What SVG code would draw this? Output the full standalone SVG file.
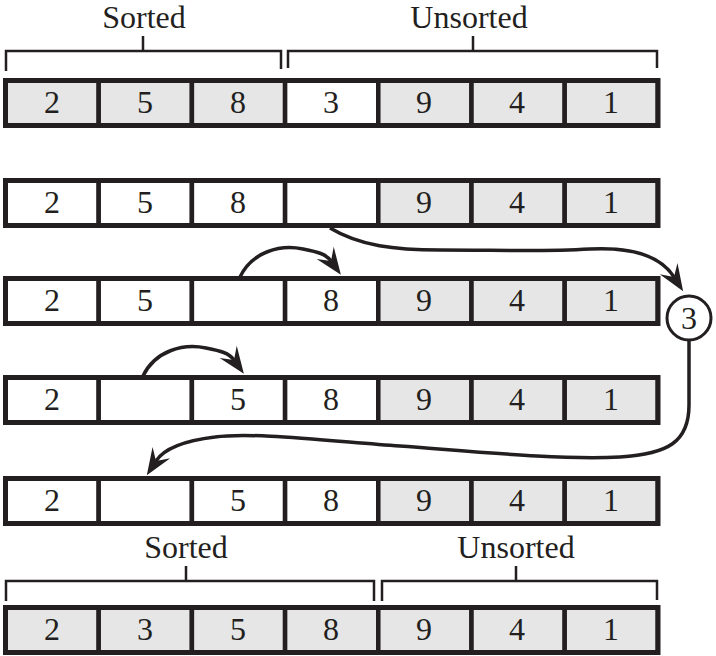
<svg xmlns="http://www.w3.org/2000/svg" width="716" height="656" viewBox="0 0 716 656">
<style>
.g{fill:#e6e6e6;stroke:#231f20;stroke-width:4.5}
.w{fill:#ffffff;stroke:#231f20;stroke-width:4.5}
.o{fill:none;stroke:#231f20;stroke-width:5}
.t{font-family:"Liberation Serif","Times New Roman",serif;font-size:32px;fill:#231f20;text-anchor:middle}
.b{fill:none;stroke:#231f20;stroke-width:2.5}
.a{fill:none;stroke:#231f20;stroke-width:3.5}
</style>
<defs>
<marker id="ah" markerUnits="userSpaceOnUse" viewBox="-28 -12 30 24" markerWidth="30" markerHeight="24" refX="-17" refY="0" orient="auto">
<path d="M0,0 L-27,-10.5 L-17,0 L-27,10.5 Z" fill="#231f20"/>
</marker>
</defs>
<rect width="716" height="656" fill="#ffffff"/>

<g id="bracket-top-sorted">
<path class="b" d="M6,71 V51 H281 V69 M143,51 V36"/>
<text class="t" x="144" y="28">Sorted</text>
</g>
<g id="bracket-top-unsorted">
<path class="b" d="M288,68 V51 H657 V68 M473,51 V36"/>
<text class="t" x="469" y="28">Unsorted</text>
</g>

<g id="row1">
<rect class="g" x="5.5" y="80.5" width="93.2" height="45"/>
<rect class="g" x="98.7" y="80.5" width="93.2" height="45"/>
<rect class="g" x="191.9" y="80.5" width="93.2" height="45"/>
<rect class="w" x="285.1" y="80.5" width="93.2" height="45"/>
<rect class="g" x="378.3" y="80.5" width="93.2" height="45"/>
<rect class="g" x="471.5" y="80.5" width="93.2" height="45"/>
<rect class="g" x="564.7" y="80.5" width="93.2" height="45"/>
<rect class="o" x="5.5" y="80.5" width="652.4" height="45"/>
<text class="t" x="52" y="113">2</text><text class="t" x="145" y="113">5</text><text class="t" x="238" y="113">8</text><text class="t" x="331" y="113">3</text><text class="t" x="424" y="113">9</text><text class="t" x="517" y="113">4</text><text class="t" x="611" y="113">1</text>
</g>

<g id="row2">
<rect class="w" x="5.5" y="180.5" width="93.2" height="45"/>
<rect class="w" x="98.7" y="180.5" width="93.2" height="45"/>
<rect class="w" x="191.9" y="180.5" width="93.2" height="45"/>
<rect class="w" x="285.1" y="180.5" width="93.2" height="45"/>
<rect class="g" x="378.3" y="180.5" width="93.2" height="45"/>
<rect class="g" x="471.5" y="180.5" width="93.2" height="45"/>
<rect class="g" x="564.7" y="180.5" width="93.2" height="45"/>
<rect class="o" x="5.5" y="180.5" width="652.4" height="45"/>
<text class="t" x="52" y="213">2</text><text class="t" x="145" y="213">5</text><text class="t" x="238" y="213">8</text><text class="t" x="424" y="213">9</text><text class="t" x="517" y="213">4</text><text class="t" x="611" y="213">1</text>
</g>

<g id="row3">
<rect class="w" x="5.5" y="278.5" width="93.2" height="45"/>
<rect class="w" x="98.7" y="278.5" width="93.2" height="45"/>
<rect class="w" x="191.9" y="278.5" width="93.2" height="45"/>
<rect class="w" x="285.1" y="278.5" width="93.2" height="45"/>
<rect class="g" x="378.3" y="278.5" width="93.2" height="45"/>
<rect class="g" x="471.5" y="278.5" width="93.2" height="45"/>
<rect class="g" x="564.7" y="278.5" width="93.2" height="45"/>
<rect class="o" x="5.5" y="278.5" width="652.4" height="45"/>
<text class="t" x="52" y="311">2</text><text class="t" x="145" y="311">5</text><text class="t" x="331" y="311">8</text><text class="t" x="424" y="311">9</text><text class="t" x="517" y="311">4</text><text class="t" x="611" y="311">1</text>
</g>

<g id="row4">
<rect class="w" x="5.5" y="377.5" width="93.2" height="45"/>
<rect class="w" x="98.7" y="377.5" width="93.2" height="45"/>
<rect class="w" x="191.9" y="377.5" width="93.2" height="45"/>
<rect class="w" x="285.1" y="377.5" width="93.2" height="45"/>
<rect class="g" x="378.3" y="377.5" width="93.2" height="45"/>
<rect class="g" x="471.5" y="377.5" width="93.2" height="45"/>
<rect class="g" x="564.7" y="377.5" width="93.2" height="45"/>
<rect class="o" x="5.5" y="377.5" width="652.4" height="45"/>
<text class="t" x="52" y="410">2</text><text class="t" x="238" y="410">5</text><text class="t" x="331" y="410">8</text><text class="t" x="424" y="410">9</text><text class="t" x="517" y="410">4</text><text class="t" x="611" y="410">1</text>
</g>

<g id="row5">
<rect class="w" x="5.5" y="478.5" width="93.2" height="45"/>
<rect class="w" x="98.7" y="478.5" width="93.2" height="45"/>
<rect class="w" x="191.9" y="478.5" width="93.2" height="45"/>
<rect class="w" x="285.1" y="478.5" width="93.2" height="45"/>
<rect class="g" x="378.3" y="478.5" width="93.2" height="45"/>
<rect class="g" x="471.5" y="478.5" width="93.2" height="45"/>
<rect class="g" x="564.7" y="478.5" width="93.2" height="45"/>
<rect class="o" x="5.5" y="478.5" width="652.4" height="45"/>
<text class="t" x="52" y="511">2</text><text class="t" x="238" y="511">5</text><text class="t" x="331" y="511">8</text><text class="t" x="424" y="511">9</text><text class="t" x="517" y="511">4</text><text class="t" x="611" y="511">1</text>
</g>

<g id="bracket-bottom-sorted">
<path class="b" d="M6,601 V581 H374 V601 M186,581 V566"/>
<text class="t" x="186" y="558">Sorted</text>
</g>
<g id="bracket-bottom-unsorted">
<path class="b" d="M382,601 V581 H657 V600 M516,581 V566"/>
<text class="t" x="516" y="558">Unsorted</text>
</g>

<g id="row6">
<rect class="g" x="5.5" y="607.5" width="93.2" height="45"/>
<rect class="g" x="98.7" y="607.5" width="93.2" height="45"/>
<rect class="g" x="191.9" y="607.5" width="93.2" height="45"/>
<rect class="g" x="285.1" y="607.5" width="93.2" height="45"/>
<rect class="g" x="378.3" y="607.5" width="93.2" height="45"/>
<rect class="g" x="471.5" y="607.5" width="93.2" height="45"/>
<rect class="g" x="564.7" y="607.5" width="93.2" height="45"/>
<rect class="o" x="5.5" y="607.5" width="652.4" height="45"/>
<text class="t" x="52" y="640">2</text><text class="t" x="145" y="640">3</text><text class="t" x="238" y="640">5</text><text class="t" x="331" y="640">8</text><text class="t" x="424" y="640">9</text><text class="t" x="517" y="640">4</text><text class="t" x="611" y="640">1</text>
</g>

<g id="temp">
<circle cx="689" cy="318" r="22" fill="#ffffff" stroke="#231f20" stroke-width="3"/>
<text class="t" x="689" y="329">3</text>
</g>

<g id="connectors">
<path class="a" marker-end="url(#ah)" d="M330,228 C360,246 395,250 440,250 C500,250 540,252 590,249 C630,247 660,255 674,277"/>
<path class="a" marker-end="url(#ah)" d="M240,277 C252,252 280,244 303,249 C318,252 326,254 331,261"/>
<path class="a" marker-end="url(#ah)" d="M143,376 C155,351 183,343 206,348 C221,351 229,353 234,360"/>
<path class="a" marker-end="url(#ah)" d="M689,340 L689,405 C689,442 668,454 620,457 C560,460 480,452 400,446 C320,440 250,432 215,437 C190,440 165,447 156,461"/>
</g>
</svg>
